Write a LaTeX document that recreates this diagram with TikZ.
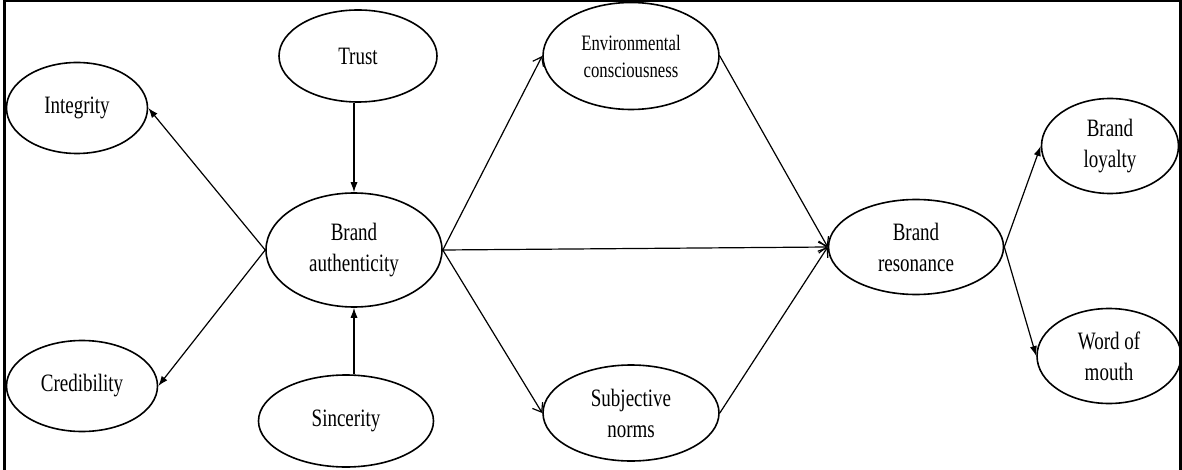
\documentclass[tikz,border=0pt]{standalone}
\usepackage{fontspec}
\setmainfont{Liberation Serif}[FakeStretch=0.76]
\usetikzlibrary{shapes.geometric,arrows.meta}

\begin{document}
\begin{tikzpicture}[
	x=0.5pt, y=-0.5pt, % one unit is one pixel, y runs downwards
	% Style for the construct ellipses
	construct/.style={
		ellipse,
		draw=black,
		line width=0.8pt,
		inner sep=0pt,
		align=center,
		font=\fontsize{12.5}{15.5}\selectfont
	},
	% Style for the arrows with a filled head
	solid edge/.style={
		draw=black,
		line width=0.6pt,
		-{Latex[length=5pt,width=3.6pt]}
	},
	% Style for the arrows with an open head
	open edge/.style={
		draw=black,
		line width=0.6pt,
		-{Straight Barb[length=4pt,width=6pt]}
	}
	]
	\useasboundingbox (0,0) rectangle (1182,470);
	
	% Frame round the figure
	\draw[line width=1.1pt] (4.5,470) -- (4.5,1.2) -- (1180.5,1.2) -- (1180.5,470);
	
	% 1. Define Node Positions
	% Antecedents of brand authenticity
	\node[construct, minimum width=70.5pt, minimum height=45.5pt] (integ) at (77,108) {Integrity};
	\node[construct, minimum width=79pt, minimum height=46pt] (trust) at (358,56) {Trust};
	\node[construct, minimum width=75.5pt, minimum height=45.5pt] (cred) at (82,386) {Credibility};
	\node[construct, minimum width=87.5pt, minimum height=46pt] (sinc) at (346,421) {Sincerity};
	
	% Brand authenticity
	\node[construct, minimum width=88pt, minimum height=57pt] (auth) at (354,250) {Brand\\authenticity};
	
	% Mediators
	\node[construct, minimum width=88pt, minimum height=53.5pt,
		font=\fontsize{11}{13.5}\selectfont] (env) at (631,56) {Environmental\\consciousness};
	\node[construct, minimum width=88pt, minimum height=48pt] (subj) at (631,413) {Subjective\\norms};
	
	% Brand resonance and outcomes
	\node[construct, minimum width=87.5pt, minimum height=47.5pt] (reson) at (916,247) {Brand\\resonance};
	\node[construct, minimum width=68.5pt, minimum height=47.5pt] (loyal) at (1110,146) {Brand\\loyalty};
	\node[construct, minimum width=72pt, minimum height=47.5pt] (wom) at (1109,356) {Word of\\mouth};
	
	% 2. Draw Edges connecting the nodes
	% Edges round brand authenticity
	\draw[solid edge] (trust.south -| auth.north) -- (auth.north);
	\draw[solid edge] (sinc.north -| auth.south) -- (auth.south);
	\draw[solid edge] (auth.west) -- (integ.east);
	\draw[solid edge] (auth.west) -- (cred.east);
	
	% Edges to and from the mediators
	\draw[open edge] (auth.east) -- (env.west);
	\draw[open edge] (auth.east) -- (subj.west);
	\draw[open edge] (auth.east) -- (reson.west);
	\draw[open edge] (env.east) -- (reson.west);
	\draw[open edge] (subj.east) -- (reson.west);
	
	% Edges from brand resonance
	\draw[solid edge] (reson.east) -- (loyal.west);
	\draw[solid edge] (reson.east) -- (wom.west);
	
\end{tikzpicture}
\end{document}
